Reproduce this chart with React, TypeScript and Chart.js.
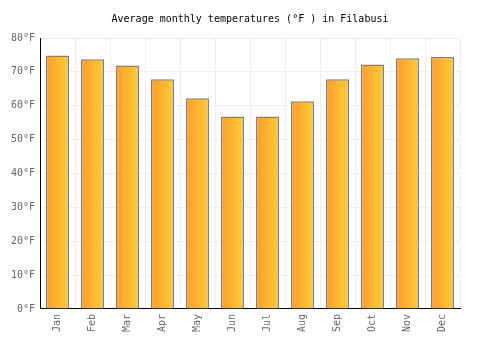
import React, { useEffect, useRef } from "react";
import { Chart, registerables } from "chart.js";

Chart.register(...registerables);

const months = ["Jan", "Feb", "Mar", "Apr", "May", "Jun", "Jul", "Aug", "Sep", "Oct", "Nov", "Dec"];
const temps = [74.8, 73.7, 71.9, 67.8, 62.2, 56.8, 56.8, 61.3, 67.8, 72.2, 74.0, 74.4];
const yTicks = [0, 10, 20, 30, 40, 50, 60, 70, 80];

const FONT = "'DejaVu Sans Mono', monospace";

export default function App() {
  const ref = useRef<HTMLCanvasElement | null>(null);
  useEffect(() => {
    document.body.style.margin = "0";
    const canvas = ref.current!;
    const chart = new Chart(canvas, {
      type: "bar",
      data: {
        labels: months,
        datasets: [
          {
            data: temps,
            borderColor: "#808080",
            borderWidth: 1.5,
            barPercentage: 0.66,
            categoryPercentage: 1,
            backgroundColor: (c: any) => {
              const ch = c.chart;
              const xs = ch.scales?.x;
              if (!xs || c.dataIndex === undefined) return "#FFB030";
              const center = xs.getPixelForValue(c.dataIndex);
              const w = (xs.width / months.length) * 0.66;
              if (!isFinite(center) || !isFinite(w) || w <= 0) return "#FFB030";
              const g = ch.ctx.createLinearGradient(center - w / 2, 0, center + w / 2, 0);
              g.addColorStop(0, "#FF9C30");
              g.addColorStop(1, "#FFCC33");
              return g;
            },
          },
        ],
      },
      options: {
        animation: false,
        responsive: false,
        layout: { padding: { left: 0, right: 0, top: 0, bottom: 13 } },
        plugins: {
          legend: { display: false },
          tooltip: { enabled: false },
          title: {
            display: true,
            text: "Average monthly temperatures (°F ) in Filabusi",
            color: "#000",
            font: { family: FONT, size: 10, weight: "normal" },
            padding: { top: 13, bottom: 13 },
          },
        },
        scales: {
          x: {
            grid: { color: "#eeeeee", offset: true, drawTicks: false },
            border: { color: "#000", width: 1 },
            ticks: {
              color: "#666",
              font: { family: FONT, size: 10 },
              maxRotation: 90,
              minRotation: 90,
              padding: 5,
            },
          },
          y: {
            min: 0,
            max: 80,
            afterBuildTicks: (s: any) => {
              s.ticks = yTicks.map((v) => ({ value: v }));
            },
            afterFit: (s: any) => {
              s.width = 40;
            },
            grid: { color: "#eeeeee", drawTicks: false },
            border: { color: "#000", width: 1 },
            ticks: {
              color: "#666",
              font: { family: FONT, size: 10 },
              padding: 5,
              callback: (v: any) => v + "°F",
            },
          },
          y2: {
            position: "right",
            display: true,
            min: 0,
            max: 80,
            afterFit: (s: any) => {
              s.width = 40;
            },
            grid: { display: false, drawTicks: false },
            border: { display: false },
            ticks: { display: false },
          },
        },
      },
    });
    return () => chart.destroy();
  }, []);
  return (
    <div style={{ width: 500, height: 350 }}>
      <canvas ref={ref} width={500} height={350} />
    </div>
  );
}
